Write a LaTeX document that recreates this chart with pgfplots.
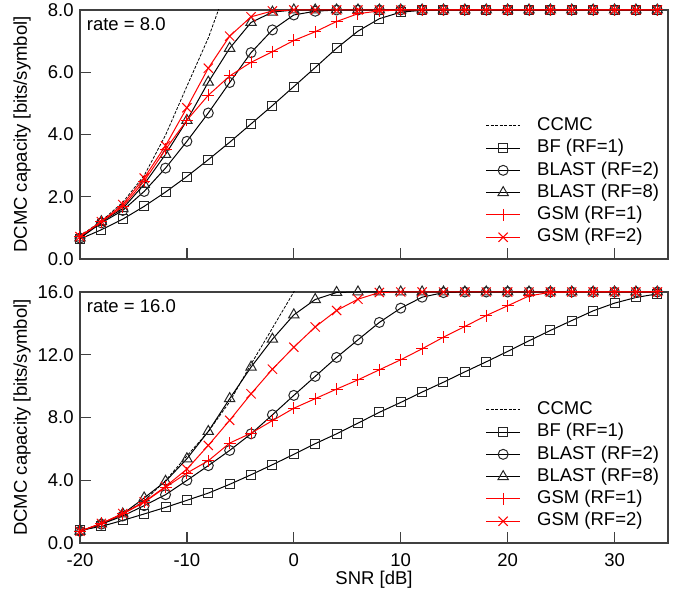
\documentclass[border=0pt]{standalone}
\usepackage{fontspec}
\setmainfont{Liberation Sans}
\usepackage{pgfplots}
\usepackage{pgfplotstable}
\pgfplotsset{compat=1.18}

% CCMC (unconstrained) capacity, shared by both panels
\pgfplotstableread{
snr ccmc
-20 0.74
-18 1.22
-16 1.82
-14 2.68
-12 3.98
-10 5.55
-8 7.10
-6 9.00
-4 11.40
-2 13.70
0 16.00
2 18.30
}\ccmc

% rate = 8.0
\pgfplotstableread{
snr bf bltwo bleight gsmone gsmtwo
-20 0.64 0.67 0.68 0.72 0.72
-18 0.94 1.16 1.20 1.20 1.20
-16 1.28 1.56 1.62 1.68 1.75
-14 1.69 2.17 2.40 2.50 2.60
-12 2.15 2.92 3.36 3.52 3.64
-10 2.65 3.78 4.45 4.46 4.86
-8 3.19 4.69 5.68 5.26 6.13
-6 3.75 5.67 6.77 5.88 7.16
-4 4.34 6.63 7.60 6.32 7.78
-2 4.93 7.36 7.93 6.66 7.97
0 5.54 7.84 8.00 7.02 8.00
2 6.15 7.96 8.00 7.30 8.00
4 6.77 8.00 8.00 7.63 8.00
6 7.32 8.00 8.00 7.88 8.00
8 7.72 8.00 8.00 7.97 8.00
10 7.93 8.00 8.00 8.00 8.00
12 7.99 8.00 8.00 8.00 8.00
14 8.00 8.00 8.00 8.00 8.00
16 8.00 8.00 8.00 8.00 8.00
18 8.00 8.00 8.00 8.00 8.00
20 8.00 8.00 8.00 8.00 8.00
22 8.00 8.00 8.00 8.00 8.00
24 8.00 8.00 8.00 8.00 8.00
26 8.00 8.00 8.00 8.00 8.00
28 8.00 8.00 8.00 8.00 8.00
30 8.00 8.00 8.00 8.00 8.00
32 8.00 8.00 8.00 8.00 8.00
34 8.00 8.00 8.00 8.00 8.00
}\rateeight

% rate = 16.0
\pgfplotstableread{
snr bf bltwo bleight gsmone gsmtwo
-20 0.80 0.75 0.75 0.75 0.75
-18 1.06 1.20 1.22 1.25 1.25
-16 1.44 1.72 1.85 1.85 1.88
-14 1.85 2.38 2.87 2.59 2.62
-12 2.27 3.08 3.93 3.55 3.60
-10 2.72 3.99 5.37 4.46 4.71
-8 3.18 4.93 7.11 5.24 6.22
-6 3.74 5.90 9.20 6.37 7.82
-4 4.35 6.96 11.21 7.00 9.51
-2 4.99 8.17 12.99 7.80 11.08
0 5.65 9.41 14.54 8.59 12.48
2 6.33 10.62 15.52 9.20 13.77
4 6.96 11.83 15.97 9.81 14.82
6 7.64 12.95 16.00 10.40 15.54
8 8.33 14.06 16.00 11.04 15.97
10 8.96 14.97 16.00 11.68 16.00
12 9.62 15.67 16.00 12.38 16.00
14 10.25 15.96 16.00 13.12 16.00
16 10.91 16.00 16.00 13.80 16.00
18 11.55 16.00 16.00 14.50 16.00
20 12.21 16.00 16.00 15.12 16.00
22 12.89 16.00 16.00 15.75 16.00
24 13.55 16.00 16.00 15.98 16.00
26 14.18 16.00 16.00 16.00 16.00
28 14.80 16.00 16.00 16.00 16.00
30 15.29 16.00 16.00 16.00 16.00
32 15.65 16.00 16.00 16.00 16.00
34 15.88 16.00 16.00 16.00 16.00
}\ratesixteen

\pgfplotsset{
  dcmc/.style={
    scale only axis, width=588pt,
    xmin=-20, xmax=35,
    xtick={-20,-10,0,10,20,30},
    tick pos=left, tick align=inside, major tick length=11pt,
    axis line style={black!75, line width=1.3pt},
    every tick/.style={black!75, line width=1.3pt},
    clip mode=individual,
    ylabel={DCMC capacity [bits/symbol]},
    every axis y label/.style={at={(rel axis cs:0,0.5)}, xshift=-58pt, rotate=90, anchor=center},
    yticklabel style={xshift=0pt},
    legend cell align=left,
    legend style={draw=none, fill=none, at={(1,0)}, anchor=south east,
      xshift=-8pt, yshift=12pt, inner sep=0pt, outer sep=0pt,
      row sep=2.8pt, column sep=15.5pt,
      nodes={inner sep=1pt, text height=13.5pt, text depth=4pt}},
    legend image code/.code={\draw[mark repeat=2, mark phase=2, #1] plot coordinates {(0pt,0pt) (17pt,0pt) (34pt,0pt)};},
  },
  ccmcline/.style={black, line width=0.8pt, dash pattern=on 3pt off 1.5pt, no marks},
  bfline/.style={black, line width=1pt, mark=square, mark size=4.5pt, mark options={solid, black!85, line width=1pt}},
  bltwoline/.style={black, line width=1pt, mark=o, mark size=5pt, mark options={solid, black!85, line width=1pt}},
  bleightline/.style={black, line width=1pt, mark=triangle, mark size=6pt, mark options={solid, black!85, line width=1pt}},
  gsmoneline/.style={red, line width=1pt, mark=+, mark size=6pt, mark options={solid, line width=1pt}},
  gsmtwoline/.style={red, line width=1pt, mark=x, mark size=6.5pt, mark options={solid, line width=1pt}},
}

\begin{document}
\fontsize{18.5}{22}\selectfont
\begin{tikzpicture}
\useasboundingbox (0pt,0pt) rectangle (686pt,601pt);

\begin{axis}[dcmc,
  at={(80pt,342pt)}, anchor=south west, height=249pt,
  ymin=0, ymax=8,
  ytick={0,2,4,6,8}, yticklabels={0.0,2.0,4.0,6.0,8.0},
  xticklabels={},
]
\addplot[ccmcline] table[x=snr, y=ccmc] {\ccmc};
\addplot[bfline] table[x=snr, y=bf] {\rateeight};
\addplot[bltwoline] table[x=snr, y=bltwo] {\rateeight};
\addplot[bleightline] table[x=snr, y=bleight] {\rateeight};
\addplot[gsmoneline] table[x=snr, y=gsmone] {\rateeight};
\addplot[gsmtwoline] table[x=snr, y=gsmtwo] {\rateeight};
\legend{CCMC, BF (RF=1), BLAST (RF=2), BLAST (RF=8), GSM (RF=1), GSM (RF=2)}
\node[anchor=north west, inner sep=0pt, xshift=6.7pt, yshift=-7.5pt] at (rel axis cs:0,1) {rate = 8.0};
\end{axis}

\begin{axis}[dcmc,
  at={(80pt,58pt)}, anchor=south west, height=251pt,
  ymin=0, ymax=16,
  ytick={0,4,8,12,16}, yticklabels={0.0,4.0,8.0,12.0,16.0},
  xticklabels={-20,-10,0,10,20,30},
  xticklabel style={yshift=-4pt},
  xlabel={SNR [dB]},
  every axis x label/.style={at={(rel axis cs:0.5,0)}, yshift=-37pt, anchor=center},
]
\addplot[ccmcline] table[x=snr, y=ccmc] {\ccmc};
\addplot[bfline] table[x=snr, y=bf] {\ratesixteen};
\addplot[bltwoline] table[x=snr, y=bltwo] {\ratesixteen};
\addplot[bleightline] table[x=snr, y=bleight] {\ratesixteen};
\addplot[gsmoneline] table[x=snr, y=gsmone] {\ratesixteen};
\addplot[gsmtwoline] table[x=snr, y=gsmtwo] {\ratesixteen};
\legend{CCMC, BF (RF=1), BLAST (RF=2), BLAST (RF=8), GSM (RF=1), GSM (RF=2)}
\node[anchor=north west, inner sep=0pt, xshift=6.7pt, yshift=-7.5pt] at (rel axis cs:0,1) {rate = 16.0};
\end{axis}
\end{tikzpicture}
\end{document}
